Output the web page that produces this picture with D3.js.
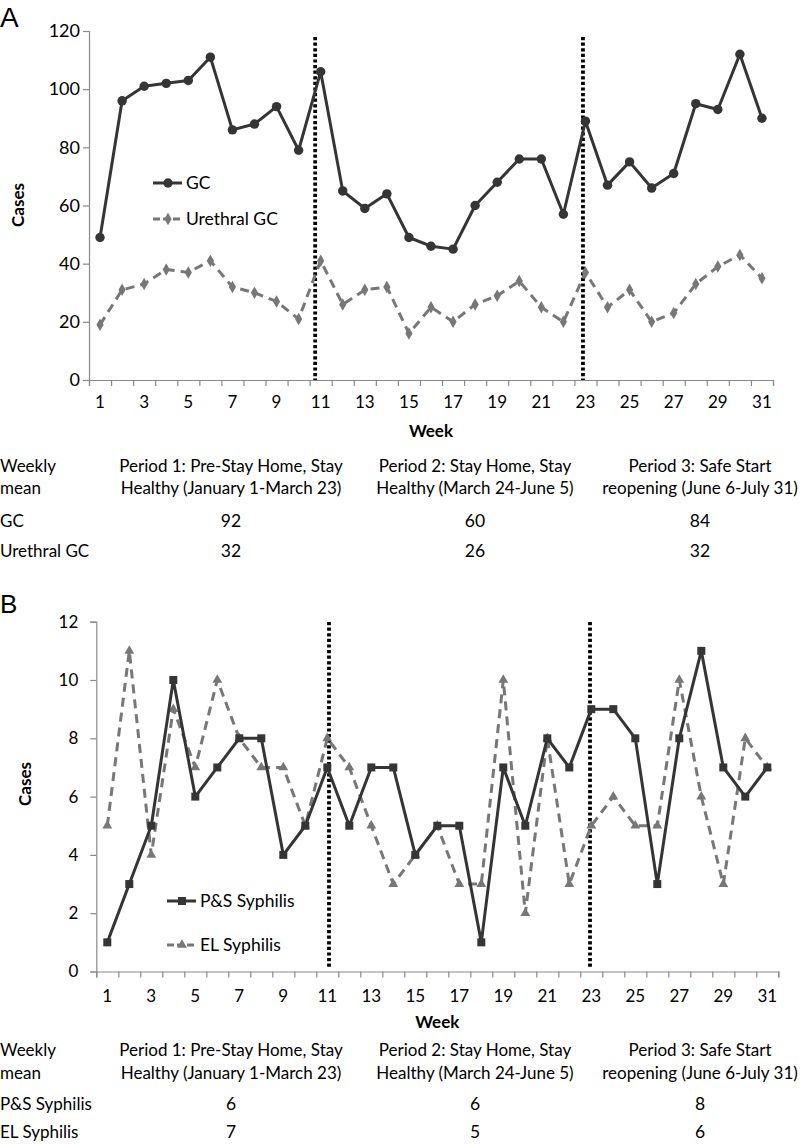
<!DOCTYPE html>
<html>
<head>
<meta charset="utf-8">
<script src="https://cdn.jsdelivr.net/npm/d3@7"></script>
<style>
  html, body { margin: 0; padding: 0; background: #fff; }
  svg { display: block; }
  text { font-family: Lato, "Open Sans", sans-serif; fill: #000; }
</style>
</head>
<body>
<svg id="chart" width="800" height="1145"></svg>
<script>
// ---------------- DATA ----------------
const weeks = [1,2,3,4,5,6,7,8,9,10,11,12,13,14,15,16,17,18,19,20,21,22,23,24,25,26,27,28,29,30,31];
const weekTickLabels = [1,3,5,7,9,11,13,15,17,19,21,23,25,27,29,31];

const gcCases = [49,96,101,102,103,111,86,88,94,79,106,65,59,64,49,46,45,60,68,76,76,57,89,67,75,66,71,95,93,112,90];
const urethralGcCases = [19,31,33,38,37,41,32,30,27,21,41,26,31,32,16,25,20,26,29,34,25,20,37,25,31,20,23,33,39,43,35];

const psSyphilisCases = [1,3,5,10,6,7,8,8,4,5,7,5,7,7,4,5,5,1,7,5,8,7,9,9,8,3,8,11,7,6,7];
const elSyphilisCases = [5,11,4,9,7,10,8,7,7,5,8,7,5,3,4,5,3,3,10,2,8,3,5,6,5,5,10,6,3,8,7];

const yTicksA = [0,20,40,60,80,100,120];
const yTicksB = [0,2,4,6,8,10,12];

const periodBreakWeeks = [11, 23];

const tableHeaderLabel = ["Weekly", "mean"];
const periodHeaders = [
  ["Period 1: Pre-Stay Home, Stay", "Healthy (January 1-March 23)"],
  ["Period 2: Stay Home, Stay", "Healthy (March 24-June 5)"],
  ["Period 3: Safe Start", "reopening (June 6-July 31)"]
];
const gcMeans = [92, 60, 84];
const urethralGcMeans = [32, 26, 32];
const psSyphilisMeans = [6, 6, 8];
const elSyphilisMeans = [7, 5, 6];

// ---------------- DRAWING ----------------
const svg = d3.select("#chart");
const DARK = "#353535";
const GRAY = "#777777";
const AXIS = "#8a8a8a";

function drawPanel(cfg) {
  const g = svg.append("g");
  const x = d3.scaleBand().domain(weeks).range([cfg.x0, cfg.x1]).padding(0);
  const bw = x.bandwidth();
  const cx = w => x(w) + bw / 2;
  const y = d3.scaleLinear().domain([0, cfg.yMax]).range([cfg.yBottom, cfg.yTop]);

  // panel letter
  g.append("text").attr("x", cfg.letterX).attr("y", cfg.letterY)
    .style("font-family", "'Liberation Sans', Arial, sans-serif")
    .style("font-size", cfg.letterSize + "px").text(cfg.letter);

  // y axis
  const yAxis = g.append("g").attr("transform", `translate(${cfg.x0},0)`)
    .call(d3.axisLeft(y).tickValues(cfg.yTicks).tickSize(6).tickPadding(cfg.yPad));
  yAxis.select(".domain").attr("stroke", AXIS).attr("stroke-width", 1.2);
  yAxis.selectAll(".tick line").attr("stroke", AXIS).attr("stroke-width", 1.2);
  yAxis.selectAll(".tick text").style("font-size", cfg.yFont + "px")
    .style("font-family", "Lato, sans-serif").attr("fill", "#000");

  // x axis : tick marks at band boundaries
  const xb = d3.scaleLinear().domain([0.5, 31.5]).range([cfg.x0, cfg.x1]);
  const bounds = weeks.map(w => w - 0.5).concat([31.5]);
  const xAxisTicks = g.append("g").attr("transform", `translate(0,${cfg.yBottom})`)
    .call(d3.axisBottom(xb).tickValues(bounds).tickSize(6).tickFormat(""));
  xAxisTicks.select(".domain").attr("stroke", AXIS).attr("stroke-width", 1.2);
  xAxisTicks.selectAll(".tick line").attr("stroke", AXIS).attr("stroke-width", 1.2);

  // x labels
  const xLab = g.append("g").attr("transform", `translate(0,${cfg.yBottom})`)
    .call(d3.axisBottom(x).tickValues(weekTickLabels).tickSize(0).tickPadding(cfg.xPad));
  xLab.select(".domain").remove();
  xLab.selectAll(".tick text").style("font-size", "17px")
    .style("font-family", "Lato, sans-serif").attr("fill", "#000");

  // axis titles
  g.append("text").attr("x", (cfg.x0 + cfg.x1) / 2).attr("y", cfg.weekY)
    .attr("text-anchor", "middle").style("font-weight", "bold").style("font-size", "17px").text("Week");
  g.append("text").attr("transform", `translate(${cfg.casesX},${cfg.casesY}) rotate(-90)`)
    .attr("text-anchor", "middle").style("font-weight", "bold").style("font-size", "17px").text("Cases");

  // period break lines
  periodBreakWeeks.forEach((w, i) => {
    const xx = cx(w) + cfg.breakOffsets[i];
    g.append("line").attr("x1", xx).attr("x2", xx)
      .attr("y1", cfg.breakTop).attr("y2", cfg.breakBottom)
      .attr("stroke", "#000").attr("stroke-width", 3.8).attr("stroke-dasharray", "3.2,2.4");
  });

  // series
  const line = d3.line().x((d, i) => cx(weeks[i])).y(d => y(d));
  cfg.series.slice().reverse().forEach(s => {
    g.append("path").datum(s.values).attr("d", line).attr("fill", "none")
      .attr("stroke", s.color).attr("stroke-width", 3)
      .attr("stroke-dasharray", s.dash || null).attr("stroke-linejoin", "round");
    g.append("g").selectAll("path").data(s.values).join("path")
      .attr("transform", (d, i) => `translate(${cx(weeks[i])},${y(d)})`)
      .attr("d", d3.symbol().type(s.symbol).size(s.size)).attr("fill", s.color);
  });

  // legend
  cfg.series.forEach((s, i) => {
    const ly = cfg.legendY[i];
    g.append("line").attr("x1", cfg.legendX).attr("x2", cfg.legendX + 29)
      .attr("y1", ly).attr("y2", ly).attr("stroke", s.color).attr("stroke-width", 3)
      .attr("stroke-dasharray", s.dash ? "7,3" : null);
    g.append("path").attr("transform", `translate(${cfg.legendX + 15},${ly})`)
      .attr("d", d3.symbol().type(s.symbol).size(s.size)).attr("fill", s.color);
    g.append("text").attr("x", cfg.legendX + 33).attr("y", ly + 6)
      .style("font-size", "17.5px").text(s.name);
  });

  // table
  const colX = [231, 475, 700];
  tableHeaderLabel.forEach((t, i) => {
    g.append("text").attr("x", 0).attr("y", cfg.tableY[i]).style("font-size", "17px").text(t);
  });
  periodHeaders.forEach((lines, c) => {
    lines.forEach((t, i) => {
      g.append("text").attr("x", colX[c]).attr("y", cfg.tableY[i])
        .attr("text-anchor", "middle").style("font-size", "17px").text(t);
    });
  });
  cfg.series.forEach((s, r) => {
    const ty = cfg.tableY[2 + r];
    g.append("text").attr("x", 0).attr("y", ty).style("font-size", "17px").text(s.name);
    s.means.forEach((m, c) => {
      g.append("text").attr("x", colX[c]).attr("y", ty)
        .attr("text-anchor", "middle").style("font-size", "17.5px").text(m);
    });
  });
}

drawPanel({
  letter: "A", letterX: 0, letterY: 27, letterSize: 28,
  x0: 89, x1: 773, yTop: 31, yBottom: 380, yMax: 120, yTicks: yTicksA,
  yFont: 18, yPad: 3, xPad: 16,
  weekY: 437, casesX: 24, casesY: 205,
  breakOffsets: [-5.5, -2.5], breakTop: 37, breakBottom: 380,
  legendX: 153, legendY: [183, 219],
  tableY: [472, 494, 527, 557],
  series: [
    { name: "GC", values: gcCases, means: gcMeans, color: DARK, symbol: d3.symbolCircle, size: 70 },
    { name: "Urethral GC", values: urethralGcCases, means: urethralGcMeans, color: GRAY, symbol: d3.symbolDiamond, size: 45, dash: "9,6" }
  ]
});

drawPanel({
  letter: "B", letterX: 0, letterY: 613, letterSize: 26,
  x0: 96.3, x1: 778.3, yTop: 621.7, yBottom: 971.5, yMax: 12, yTicks: yTicksB,
  yFont: 17, yPad: 12, xPad: 18,
  weekY: 1028, casesX: 31, casesY: 784,
  breakOffsets: [1.7, -1.3], breakTop: 622, breakBottom: 967,
  legendX: 167, legendY: [901, 945],
  tableY: [1056, 1079, 1110, 1138],
  series: [
    { name: "P&S Syphilis", values: psSyphilisCases, means: psSyphilisMeans, color: DARK, symbol: d3.symbolSquare, size: 64 },
    { name: "EL Syphilis", values: elSyphilisCases, means: elSyphilisMeans, color: GRAY, symbol: d3.symbolTriangle, size: 42, dash: "9,6" }
  ]
});
</script>
</body>
</html>
